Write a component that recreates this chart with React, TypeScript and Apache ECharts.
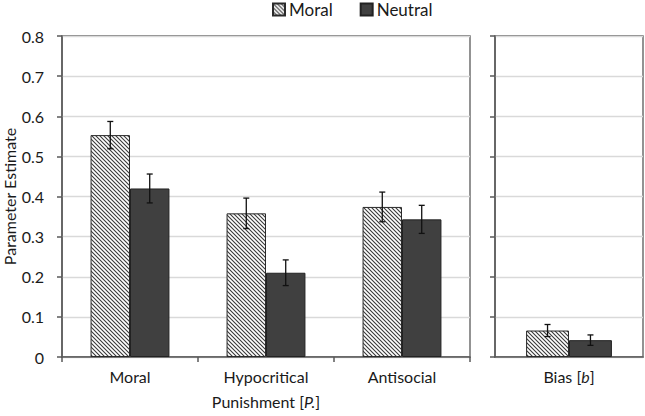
import React, { useEffect, useRef } from "react";
import * as echarts from "echarts";

const categories = ["Moral", "Hypocritical", "Antisocial"];
const moralValues = [0.553, 0.358, 0.374];
const moralErrors = [0.034, 0.038, 0.037];
const neutralValues = [0.42, 0.21, 0.343];
const neutralErrors = [0.036, 0.032, 0.035];
const biasCategories = ["Bias"];
const biasMoral = [0.066];
const biasMoralErr = [0.015];
const biasNeutral = [0.042];
const biasNeutralErr = [0.013];
const yTicks = { min: 0, max: 0.8, interval: 0.1 };

const FONT = "Lato";
const TEXT = "#1a1a1a";
const AXIS = "#595959";
const GAP = 0.42;
const FS = 16;

function makeHatch() {
  const s = 4;
  const c = document.createElement("canvas");
  c.width = s;
  c.height = s;
  const ctx = c.getContext("2d")!;
  ctx.fillStyle = "#ffffff";
  ctx.fillRect(0, 0, s, s);
  ctx.strokeStyle = "#3a3a3a";
  ctx.lineWidth = 1.1;
  ctx.beginPath();
  ctx.moveTo(-1, -1);
  ctx.lineTo(s + 1, s + 1);
  ctx.moveTo(-1, s - 1);
  ctx.lineTo(1, s + 1);
  ctx.moveTo(s - 1, -1);
  ctx.lineTo(s + 1, 1);
  ctx.stroke();
  return c;
}

function errRows(vals: number[], errs: number[], side: number) {
  return vals.map((v, i) => [i, v - errs[i], v + errs[i], side]);
}

const renderErr = (params: any, api: any) => {
  const x = api.value(0);
  const lo = api.value(1);
  const hi = api.value(2);
  const side = api.value(3);
  const pLo = api.coord([x, lo]);
  const pHi = api.coord([x, hi]);
  const catW = api.size([1, 0])[0];
  const cx = pLo[0] + (side * catW * (1 - GAP)) / 4;
  const cap = 3;
  const st = { stroke: "#111", lineWidth: 1.3 };
  return {
    type: "group",
    children: [
      { type: "line", shape: { x1: cx, y1: pHi[1], x2: cx, y2: pLo[1] }, style: st },
      { type: "line", shape: { x1: cx - cap, y1: pHi[1], x2: cx + cap, y2: pHi[1] }, style: st },
      { type: "line", shape: { x1: cx - cap, y1: pLo[1], x2: cx + cap, y2: pLo[1] }, style: st },
    ],
  };
};

export default function App() {
  const ref = useRef<HTMLDivElement>(null);
  useEffect(() => {
    if (!ref.current) return;
    const chart = echarts.init(ref.current, null, { renderer: "svg" });
    const hatch = { image: makeHatch(), repeat: "repeat" };
    const moralStyle = { color: hatch as any, borderColor: "#2a2a2a", borderWidth: 1 };
    const neutralStyle = { color: "#404040", borderColor: "#222", borderWidth: 1 };
    const yBase = {
      type: "value",
      ...yTicks,
      axisLine: { show: true, lineStyle: { color: AXIS, width: 1.5 } },
      axisTick: { show: true, length: 5, lineStyle: { color: AXIS, width: 1.5 } },
      splitLine: { show: true, lineStyle: { color: "#d9d9d9", width: 1.3 } },
    };
    const rich = {
      n: { fontFamily: FONT, fontSize: FS, color: TEXT },
      i: { fontFamily: FONT, fontSize: FS, color: TEXT, fontStyle: "italic" },
    };
    chart.setOption({
      animation: false,
      backgroundColor: "#fff",
      textStyle: { fontFamily: FONT, color: TEXT },
      legend: {
        data: ["Moral", "Neutral"],
        left: 272,
        top: 1,
        padding: 0,
        itemWidth: 12,
        itemHeight: 12,
        itemGap: 27,
        icon: "rect",
        textStyle: { fontFamily: FONT, fontSize: 17, color: TEXT, padding: [0, 0, 0, -1] },
      },
      grid: [
        { left: 62, top: 36, width: 408, height: 321, show: true, borderColor: AXIS, borderWidth: 1.3, backgroundColor: "transparent", outerBoundsMode: "none", containLabel: false },
        { left: 495, top: 36, width: 148, height: 321, show: true, borderColor: AXIS, borderWidth: 1.3, backgroundColor: "transparent", outerBoundsMode: "none", containLabel: false },
      ],
      xAxis: [
        {
          type: "category",
          gridIndex: 0,
          data: categories,
          axisLine: { lineStyle: { color: AXIS, width: 1.5 } },
          axisTick: { show: true, length: 5, lineStyle: { color: AXIS, width: 1.5 } },
          axisLabel: { fontFamily: FONT, fontSize: FS, color: TEXT, margin: 11 },
          name: "{n|Punishment [}{i|P.}{n|]}",
          nameLocation: "middle",
          nameGap: 36,
          nameTextStyle: { rich },
        },
        {
          type: "category",
          gridIndex: 1,
          data: biasCategories,
          axisLine: { lineStyle: { color: AXIS, width: 1.5 } },
          axisTick: { show: false },
          axisLabel: {
            fontFamily: FONT,
            fontSize: FS,
            color: TEXT,
            margin: 11,
            formatter: () => "{n|Bias [}{i|b}{n|]}",
            rich,
          },
        },
      ],
      yAxis: [
        {
          ...yBase,
          gridIndex: 0,
          name: "Parameter Estimate",
          nameLocation: "middle",
          nameGap: 45,
          nameMoveOverlap: false,
          nameTextStyle: { fontFamily: FONT, fontSize: FS, color: TEXT },
          axisLabel: {
            fontFamily: FONT,
            fontSize: FS,
            color: TEXT,
            margin: 18,
            formatter: (v: number) => (v === 0 ? "0" : v.toFixed(1)),
          },
        },
        { ...yBase, gridIndex: 1, axisLabel: { show: false } },
      ],
      series: [
        { name: "Moral", type: "bar", xAxisIndex: 0, yAxisIndex: 0, data: moralValues, itemStyle: moralStyle, barGap: "0%", barCategoryGap: GAP * 100 + "%" },
        { name: "Neutral", type: "bar", xAxisIndex: 0, yAxisIndex: 0, data: neutralValues, itemStyle: neutralStyle, barGap: "0%", barCategoryGap: GAP * 100 + "%" },
        { name: "Moral", type: "bar", xAxisIndex: 1, yAxisIndex: 1, data: biasMoral, itemStyle: moralStyle, barGap: "0%", barCategoryGap: GAP * 100 + "%" },
        { name: "Neutral", type: "bar", xAxisIndex: 1, yAxisIndex: 1, data: biasNeutral, itemStyle: neutralStyle, barGap: "0%", barCategoryGap: GAP * 100 + "%" },
        { name: "errA", type: "custom", xAxisIndex: 0, yAxisIndex: 0, z: 5, renderItem: renderErr, encode: { x: 0, y: [1, 2] }, data: [...errRows(moralValues, moralErrors, -1), ...errRows(neutralValues, neutralErrors, 1)] },
        { name: "errB", type: "custom", xAxisIndex: 1, yAxisIndex: 1, z: 5, renderItem: renderErr, encode: { x: 0, y: [1, 2] }, data: [...errRows(biasMoral, biasMoralErr, -1), ...errRows(biasNeutral, biasNeutralErr, 1)] },
      ],
    });
    return () => chart.dispose();
  }, []);
  return <div ref={ref} style={{ width: 645, height: 416, position: "absolute", left: 0, top: 0 }} />;
}
